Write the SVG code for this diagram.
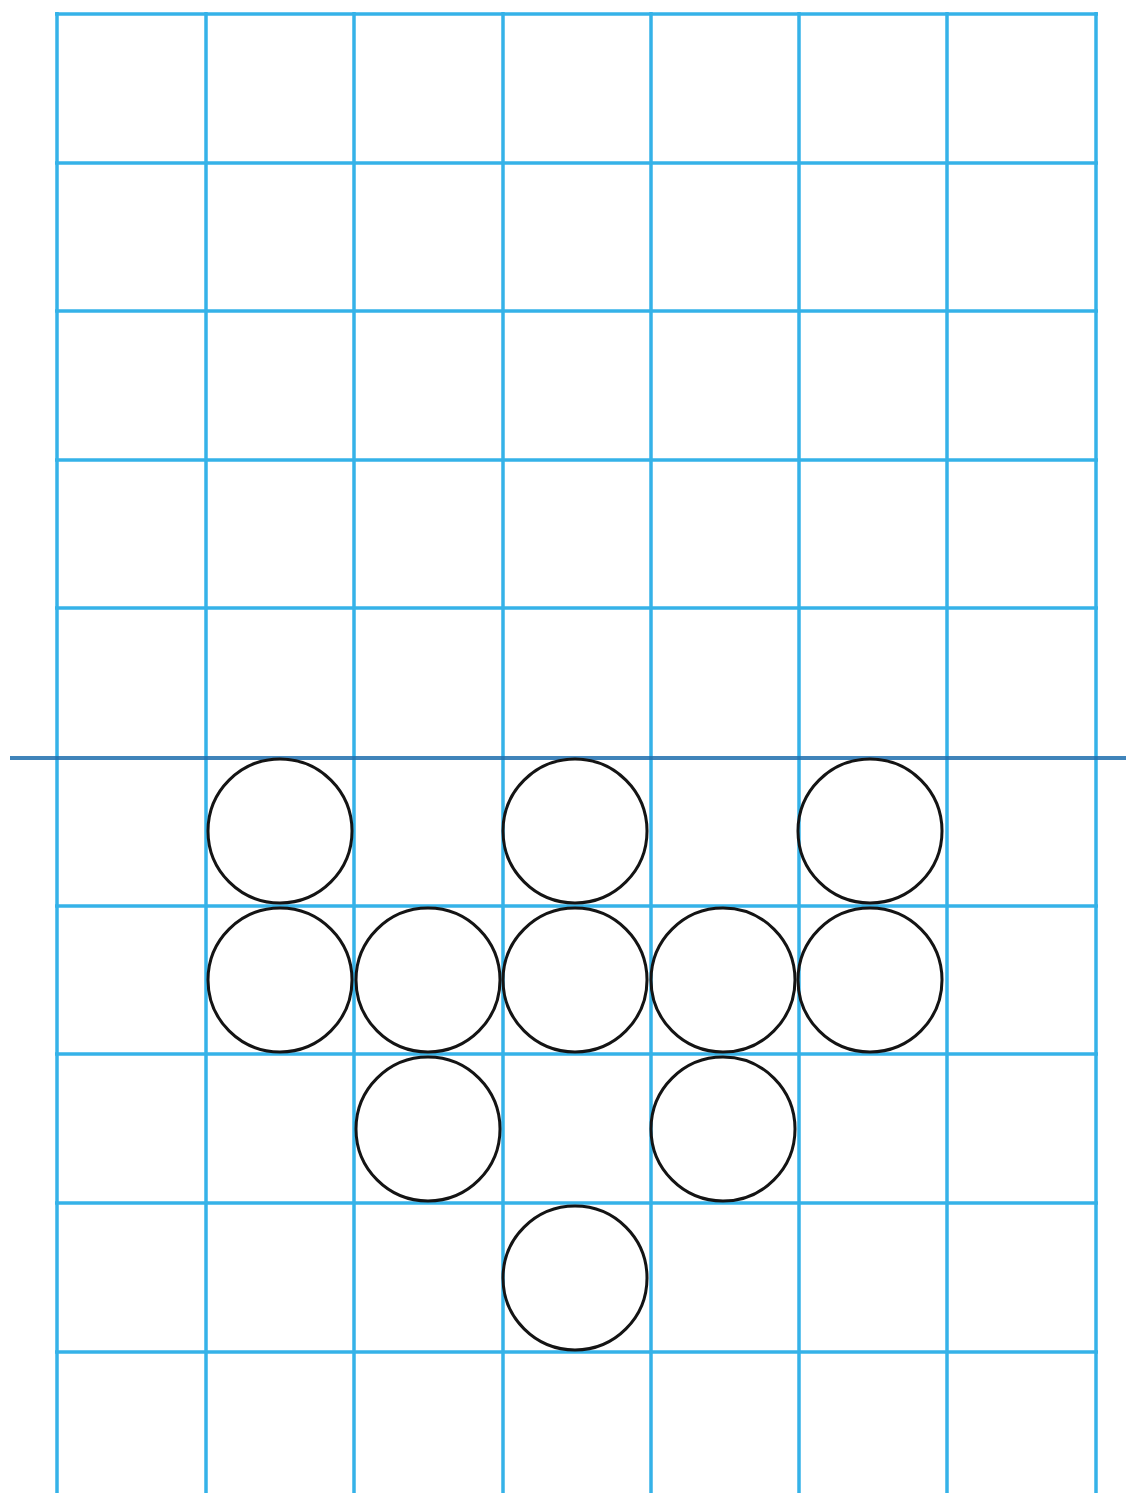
<svg xmlns="http://www.w3.org/2000/svg" width="1126" height="1493" viewBox="0 0 1126 1493">
<style>
.g{stroke:#35b2e8;stroke-width:3.5;fill:none}
.c{stroke:#141414;stroke-width:3;fill:none}
</style>
<rect width="1126" height="1493" fill="#ffffff"/>
<g id="grid">
<line class="g" x1="57" y1="12" x2="57" y2="1493"/>
<line class="g" x1="206" y1="12" x2="206" y2="1493"/>
<line class="g" x1="354" y1="12" x2="354" y2="1493"/>
<line class="g" x1="503" y1="12" x2="503" y2="1493"/>
<line class="g" x1="651" y1="12" x2="651" y2="1493"/>
<line class="g" x1="799" y1="12" x2="799" y2="1493"/>
<line class="g" x1="947" y1="12" x2="947" y2="1493"/>
<line class="g" x1="1096" y1="12" x2="1096" y2="1493"/>
<line class="g" x1="55" y1="14" x2="1098" y2="14"/>
<line class="g" x1="55" y1="163" x2="1098" y2="163"/>
<line class="g" x1="55" y1="311" x2="1098" y2="311"/>
<line class="g" x1="55" y1="460" x2="1098" y2="460"/>
<line class="g" x1="55" y1="608" x2="1098" y2="608"/>
<line class="g" x1="55" y1="906" x2="1098" y2="906"/>
<line class="g" x1="55" y1="1054" x2="1098" y2="1054"/>
<line class="g" x1="55" y1="1203" x2="1098" y2="1203"/>
<line class="g" x1="55" y1="1352" x2="1098" y2="1352"/>
</g>
<line id="waterline" x1="10" y1="758" x2="1126" y2="758" stroke="#1f6fae" stroke-width="4" stroke-opacity="0.85"/>
<g id="circles">
<circle id="c1" class="c" cx="280" cy="831" r="72"/>
<circle id="c2" class="c" cx="575" cy="831" r="72"/>
<circle id="c3" class="c" cx="870" cy="831" r="72"/>
<circle id="c4" class="c" cx="280" cy="980" r="72"/>
<circle id="c5" class="c" cx="428" cy="980" r="72"/>
<circle id="c6" class="c" cx="575" cy="980" r="72"/>
<circle id="c7" class="c" cx="723" cy="980" r="72"/>
<circle id="c8" class="c" cx="870" cy="980" r="72"/>
<circle id="c9" class="c" cx="428" cy="1129" r="72"/>
<circle id="c10" class="c" cx="723" cy="1129" r="72"/>
<circle id="c11" class="c" cx="575" cy="1278" r="72"/>
</g>
</svg>
